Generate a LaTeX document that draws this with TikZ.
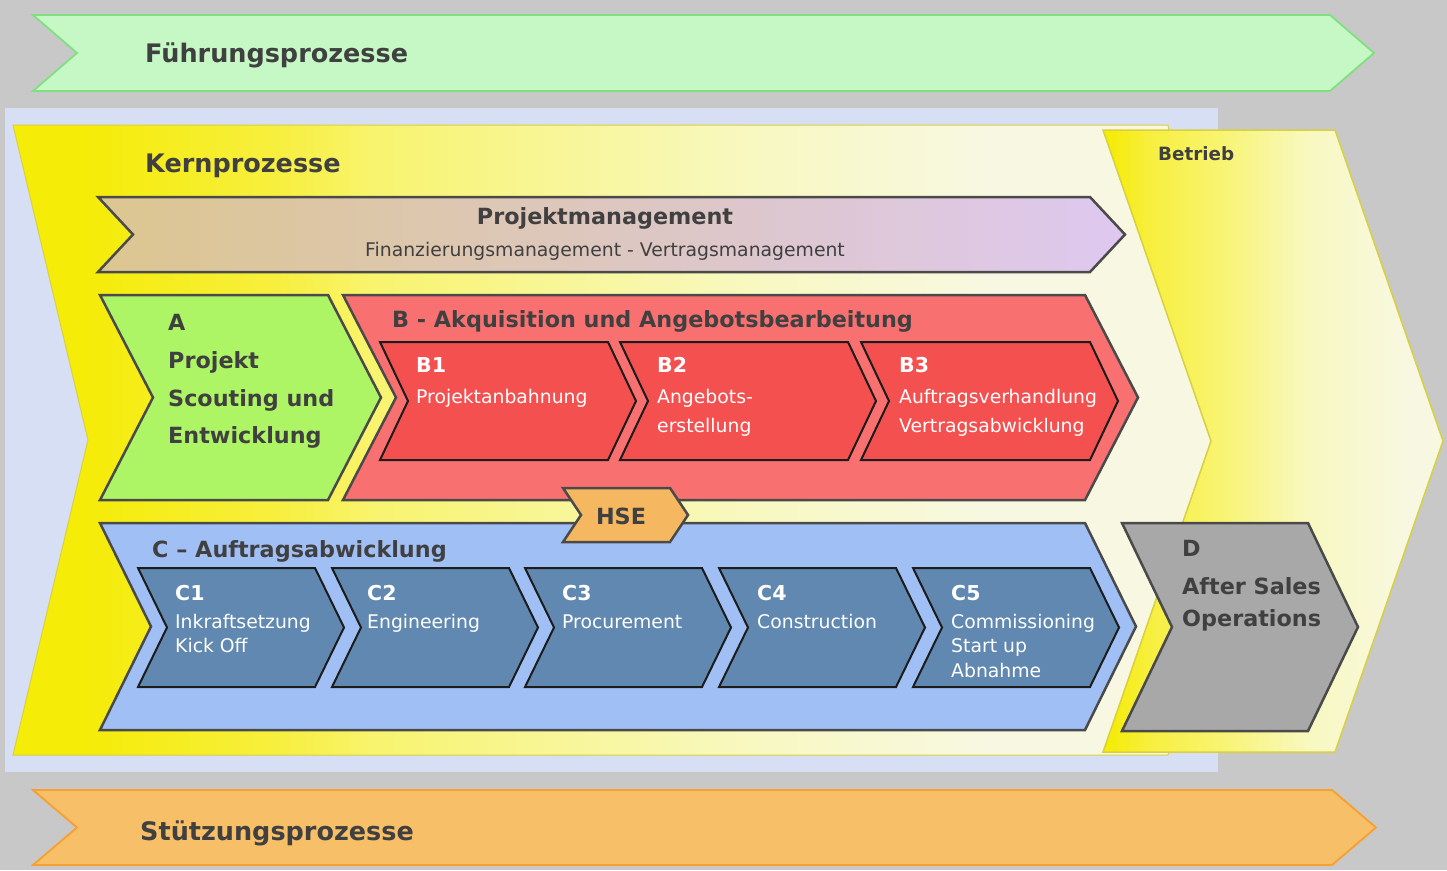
\documentclass[tikz,border=0pt]{standalone}
\usepackage{fontspec}
\setmainfont{DejaVu Sans}
\definecolor{bggray}{HTML}{C8C8C8}
\definecolor{panel}{HTML}{D7DFF5}
\definecolor{fuehrfill}{HTML}{C6F8C6}
\definecolor{fuehrline}{HTML}{80E080}
\definecolor{stuetzfill}{HTML}{F7BF68}
\definecolor{stuetzline}{HTML}{F5A030}
\definecolor{kA}{HTML}{F5EC08}
\definecolor{kB}{HTML}{F7EF40}
\definecolor{kC}{HTML}{F8F470}
\definecolor{kD}{HTML}{F8F8C0}
\definecolor{kE}{HTML}{F8F8E2}
\definecolor{kernline}{HTML}{D8D040}
\definecolor{pmA}{HTML}{DCC690}
\definecolor{pmB}{HTML}{DEC8F0}
\definecolor{afill}{HTML}{AEF566}
\definecolor{bouter}{HTML}{F87070}
\definecolor{binner}{HTML}{F55050}
\definecolor{hsefill}{HTML}{F5B860}
\definecolor{couter}{HTML}{A0C0F5}
\definecolor{cinner}{HTML}{6088B0}
\definecolor{dfill}{HTML}{A8A8A8}
\definecolor{outline}{HTML}{4A4A4A}
\definecolor{inline}{HTML}{1C1C1C}
\definecolor{txt}{HTML}{404040}
\pgfdeclarehorizontalshading{kernshade}{100bp}{color(0bp)=(kA); color(28bp)=(kA); color(36bp)=(kB); color(40bp)=(kC); color(55bp)=(kD); color(65bp)=(kE); color(100bp)=(kE)}
\pgfdeclarehorizontalshading{betriebshade}{100bp}{color(0bp)=(kA); color(26bp)=(kA); color(32bp)=(kB); color(42bp)=(kC); color(55bp)=(kD); color(70bp)=(kE); color(100bp)=(kE)}
\newcommand{\chevshape}[6]{\path[#1] (#2,#3) -- (#4,#3) -- ({#4+#6},{(#3+#5)/2}) -- (#4,#5) -- (#2,#5) -- ({#2+#6},{(#3+#5)/2}) -- cycle;}
\tikzset{
  bigtitle/.style={font=\bfseries\fontsize{25.5}{30}\selectfont, text=txt, inner sep=0pt, anchor=base west},
  midtitle/.style={font=\bfseries\fontsize{22.3}{26}\selectfont, text=txt, inner sep=0pt, anchor=base west},
  boxid/.style={font=\bfseries\fontsize{20.5}{24}\selectfont, text=white, inner sep=0pt, anchor=base west},
  boxtext/.style={font=\fontsize{18.8}{22}\selectfont, text=white, inner sep=0pt, anchor=base west},
  outerbox/.style={draw=outline, line width=2.5pt, line join=miter},
  innerbox/.style={draw=inline, line width=2pt, line join=miter}
}
\begin{document}
\begin{tikzpicture}[x=1pt,y=-1pt]
\useasboundingbox (0,0) rectangle (1447,870);
\fill[bggray] (0,0) rectangle (1447,870);
\fill[panel] (5,108) rectangle (1218,772);
% Fuehrungsprozesse / Stuetzungsprozesse
\chevshape{fill=fuehrfill, draw=fuehrline, line width=1.8pt}{33}{15}{1330}{91}{44}
\chevshape{fill=stuetzfill, draw=stuetzline, line width=1.8pt}{33}{790}{1332}{865}{44}
% Kernprozesse
\path[shading=kernshade, draw=kernline, line width=1pt] (13,125) -- (1168,125) -- (1230,440) -- (1168,755) -- (13,755) -- (88,440) -- cycle;
% Betrieb
\chevshape{shading=betriebshade, draw=kernline, line width=1.5pt}{1103}{130}{1335}{752}{108}
% Projektmanagement
\chevshape{left color=pmA, right color=pmB, outerbox}{98}{197}{1090}{272}{35}
% A
\chevshape{fill=afill, outerbox}{100}{295}{328}{500}{53}
% B
\chevshape{fill=bouter, outerbox}{343}{295}{1085}{500}{53}
\chevshape{fill=binner, innerbox}{380}{342}{608}{460}{28}
\chevshape{fill=binner, innerbox}{620}{342}{848}{460}{28}
\chevshape{fill=binner, innerbox}{861}{342}{1090}{460}{28}
% C
\chevshape{fill=couter, outerbox}{100}{523}{1085}{730}{51}
\chevshape{fill=cinner, innerbox}{138}{568}{315}{687}{29}
\chevshape{fill=cinner, innerbox}{332}{568}{509}{687}{29}
\chevshape{fill=cinner, innerbox}{525}{568}{702}{687}{29}
\chevshape{fill=cinner, innerbox}{719}{568}{896}{687}{29}
\chevshape{fill=cinner, innerbox}{913}{568}{1090}{687}{29}
% HSE
\chevshape{fill=hsefill, outerbox}{563}{488}{670}{542}{18}
% D
\chevshape{fill=dfill, outerbox}{1122}{523}{1308}{731}{50}

% Texts
\node[bigtitle] (fuehr) at (145,62) {Führungsprozesse};
\node[bigtitle] (kern) at (145,172) {Kernprozesse};
\node[bigtitle] (stuetz) at (140,840) {Stützungsprozesse};
\node[font=\bfseries\fontsize{18.3}{22}\selectfont, text=txt, inner sep=0pt, anchor=base west] (betrieb) at (1158,160) {Betrieb};
\node[midtitle, anchor=base] (pm) at (605,224) {Projektmanagement};
\node[font=\fontsize{18.8}{22}\selectfont, text=txt, inner sep=0pt, anchor=base] (pmsub) at (605,256) {Finanzierungsmanagement - Vertragsmanagement};
% A
\node[midtitle] (a1) at (168,330) {A};
\node[midtitle] (a2) at (168,368) {Projekt};
\node[midtitle] (a3) at (168,406) {Scouting und};
\node[midtitle] (a4) at (168,443) {Entwicklung};
% B
\node[midtitle] (btitle) at (392,327) {B - Akquisition und Angebotsbearbeitung};
\node[boxid] (b1id) at (416,372) {B1};
\node[boxtext] (b1t) at (416,403) {Projektanbahnung};
\node[boxid] (b2id) at (657,372) {B2};
\node[boxtext] (b2t) at (657,403) {Angebots-};
\node[boxtext] (b2u) at (657,432) {erstellung};
\node[boxid] (b3id) at (899,372) {B3};
\node[boxtext] (b3t) at (899,403) {Auftragsverhandlung};
\node[boxtext] (b3u) at (899,432) {Vertragsabwicklung};
% HSE
\node[midtitle, anchor=base] (hse) at (621,524) {HSE};
% C
\node[midtitle] (ctitle) at (152,557) {C – Auftragsabwicklung};
\node[boxid] (c1id) at (175,600) {C1};
\node[boxtext] (c1t) at (175,628) {Inkraftsetzung};
\node[boxtext] (c1u) at (175,652) {Kick Off};
\node[boxid] (c2id) at (367,600) {C2};
\node[boxtext] (c2t) at (367,628) {Engineering};
\node[boxid] (c3id) at (562,600) {C3};
\node[boxtext] (c3t) at (562,628) {Procurement};
\node[boxid] (c4id) at (757,600) {C4};
\node[boxtext] (c4t) at (757,628) {Construction};
\node[boxid] (c5id) at (951,600) {C5};
\node[boxtext] (c5t) at (951,628) {Commissioning};
\node[boxtext] (c5u) at (951,652) {Start up};
\node[boxtext] (c5v) at (951,677) {Abnahme};
% D
\node[midtitle] (d1) at (1182,556) {D};
\node[midtitle] (d2) at (1182,594) {After Sales};
\node[midtitle] (d3) at (1182,626) {Operations};
\end{tikzpicture}
\end{document}
